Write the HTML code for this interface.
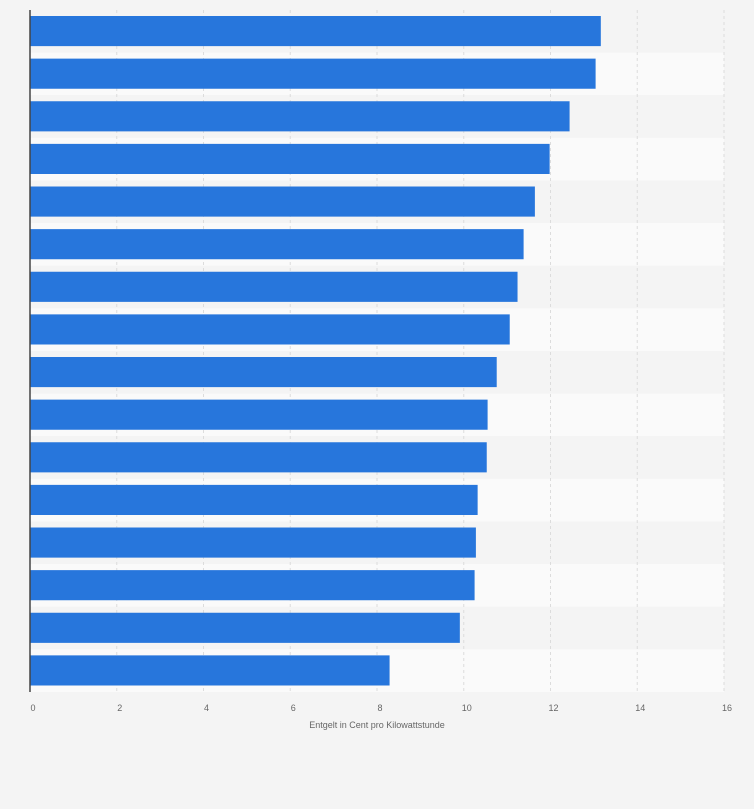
<!DOCTYPE html>
<html><head><meta charset="utf-8"><style>
body{margin:0;background:#f4f4f4;font-family:"Liberation Sans",sans-serif;}
svg{display:block}
</style></head><body>
<svg id="c" width="754" height="809"></svg>
<script>
const categories=["A1","A2","A3","A4","A5","A6","A7","A8","A9","A10","A11","A12","A13","A14","A15","A16"];
const values=[13.16,13.04,12.44,11.98,11.64,11.38,11.24,11.06,10.76,10.55,10.53,10.32,10.28,10.25,9.91,8.29];
const ticks=[0,2,4,6,8,10,12,14,16];
const NS="http://www.w3.org/2000/svg";
const svgEl=document.getElementById('c');
const x0=30,x1=724,yTop=10,yBottom=692,xmax=16;
const xs=v=>x0+(x1-x0)*v/xmax;
const rowH=(yBottom-yTop)/categories.length;
function mk(t,a){const e=document.createElementNS(NS,t);for(const k in a)e.setAttribute(k,a[k]);svgEl.appendChild(e);return e;}
categories.forEach((c,i)=>{
  const r=mk('rect',{x:x0,y:yTop+i*rowH,width:x1-x0,height:rowH,fill:i%2?'#fafafa':'#f4f4f4'});
  
  
});
ticks.forEach(t=>{
  if(t>0){const l=mk('line',{x1:xs(t),x2:xs(t),y1:yTop,y2:yBottom,stroke:'#dcdcdc','stroke-dasharray':'3,3'});
  
  }
  const tx=mk('text',{x:xs(t)+3,y:711,'font-size':9,fill:'#666','text-anchor':'middle'});
  tx.textContent=t;
  
  
});
values.forEach((v,i)=>{
  const b=mk('rect',{x:x0,y:yTop+i*rowH+6,width:xs(v)-x0,height:rowH-12.5,fill:'#2776dc'});
  
  
});
const ax=mk('line',{x1:30,x2:30,y1:yTop,y2:yBottom,stroke:'#444','stroke-width':1.5});


const tt=mk('text',{x:377,y:728,'font-size':9,fill:'#666','text-anchor':'middle'});
tt.textContent='Entgelt in Cent pro Kilowattstunde';


</script>
</body></html>
